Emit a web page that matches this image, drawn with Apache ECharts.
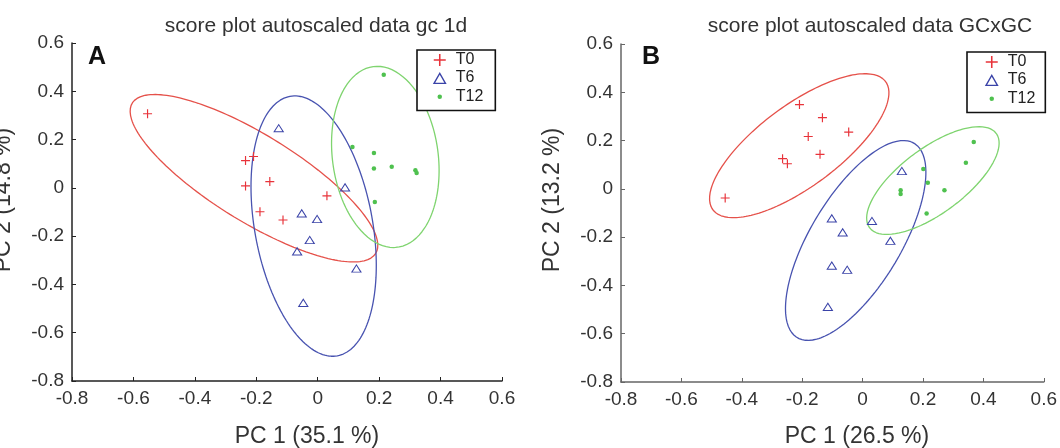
<!DOCTYPE html>
<html>
<head>
<meta charset="utf-8">
<title>score plot autoscaled data</title>
<script src="https://cdn.jsdelivr.net/npm/echarts@6/dist/echarts.min.js"></script>
<style>
body { margin: 0; background: #fff; }
#main { width: 1060px; height: 448px; }
</style>
</head>
<body>
<div id="main"></div>
<script type="text/javascript">
// axis ticks (same for both panels)
var ticks = [-0.8, -0.6, -0.4, -0.2, 0, 0.2, 0.4, 0.6];
var groups = ['T0', 'T6', 'T12'];

// panel A : gc 1d  (PC1 35.1 %, PC2 14.8 %)
var gcT0x  = [-0.554, -0.235, -0.209, -0.235, -0.156, -0.188, -0.113, 0.030];
var gcT0y  = [0.307, 0.113, 0.130, 0.008, 0.026, -0.099, -0.133, -0.033];
var gcT6x  = [-0.127, 0.089, -0.052, -0.002, -0.026, -0.067, 0.126, -0.047];
var gcT6y  = [0.248, 0.003, -0.105, -0.128, -0.215, -0.262, -0.333, -0.475];
var gcT12x = [0.215, 0.113, 0.183, 0.183, 0.241, 0.318, 0.322, 0.186];
var gcT12y = [0.469, 0.169, 0.144, 0.080, 0.087, 0.073, 0.062, -0.059];

// panel B : GCxGC  (PC1 26.5 %, PC2 13.2 %)
var gcxT0x  = [-0.455, -0.265, -0.249, -0.209, -0.180, -0.133, -0.141, -0.046];
var gcxT0y  = [-0.038, 0.125, 0.104, 0.349, 0.217, 0.295, 0.143, 0.235];
var gcxT6x  = [0.130, -0.102, -0.066, 0.031, 0.092, -0.102, -0.051, -0.115];
var gcxT6y  = [0.075, -0.121, -0.179, -0.132, -0.214, -0.317, -0.334, -0.488];
var gcxT12x = [0.368, 0.342, 0.201, 0.216, 0.271, 0.126, 0.126, 0.212];
var gcxT12y = [0.194, 0.108, 0.082, 0.025, -0.006, -0.006, -0.021, -0.102];

var pointColor = { T0: '#e8333a', T6: '#3a43a8', T12: '#4fc14f' };
var lineColor = { T0: '#e5514a', T6: '#4853b0', T12: '#7fd46f' };

var plusPath = 'path://M8.7,0 H11.3 V8.7 H20 V11.3 H11.3 V20 H8.7 V11.3 H0 V8.7 H8.7 Z';
// hollow triangle: outer one clockwise, inner one reversed
var triPath = 'path://M0,20 L11.5,0 L23,20 Z M3.9,17.8 L19.1,17.8 L11.5,4.5 Z';

var symbols = {
    T0: { symbol: plusPath, size: 9 },
    T6: { symbol: triPath, size: [11, 10] },
    T12: { symbol: 'circle', size: 4.5 }
};

function pairs(xs, ys) {
    var out = [];
    for (var i = 0; i < xs.length; i++) out.push([xs[i], ys[i]]);
    return out;
}

// 95% confidence ellipse from the group's covariance
function ellipse(xs, ys) {
    var n = xs.length, mx = 0, my = 0;
    for (var i = 0; i < n; i++) { mx += xs[i]; my += ys[i]; }
    mx /= n; my /= n;
    var sxx = 0, syy = 0, sxy = 0;
    for (var i = 0; i < n; i++) {
        sxx += (xs[i] - mx) * (xs[i] - mx);
        syy += (ys[i] - my) * (ys[i] - my);
        sxy += (xs[i] - mx) * (ys[i] - my);
    }
    sxx /= n - 1; syy /= n - 1; sxy /= n - 1;
    var tr = sxx + syy, det = sxx * syy - sxy * sxy;
    var d = Math.sqrt(Math.max(tr * tr / 4 - det, 0));
    var l1 = tr / 2 + d, l2 = Math.max(tr / 2 - d, 0);
    var ex = 1, ey = 0;
    if (Math.abs(sxy) > 1e-12) { ex = l1 - syy; ey = sxy; }
    else if (syy > sxx) { ex = 0; ey = 1; }
    var len = Math.sqrt(ex * ex + ey * ey);
    ex /= len; ey /= len;
    var k = Math.sqrt(5.991);
    var a = k * Math.sqrt(l1), b = k * Math.sqrt(l2);
    var pts = [];
    for (var j = 0; j <= 180; j++) {
        var t = 2 * Math.PI * j / 180;
        var u = a * Math.cos(t), v = b * Math.sin(t);
        pts.push([mx + u * ex - v * ey, my + u * ey + v * ex]);
    }
    return pts;
}

var panels = [
    { data: { T0: [gcT0x, gcT0y], T6: [gcT6x, gcT6y], T12: [gcT12x, gcT12y] } },
    { data: { T0: [gcxT0x, gcxT0y], T6: [gcxT6x, gcxT6y], T12: [gcxT12x, gcxT12y] } }
];

var series = [];
panels.forEach(function (p, idx) {
    groups.forEach(function (g) {
        series.push({
            name: g + ' ellipse',
            type: 'line',
            xAxisIndex: idx,
            yAxisIndex: idx,
            data: ellipse(p.data[g][0], p.data[g][1]),
            showSymbol: false,
            silent: true,
            lineStyle: { color: lineColor[g], width: 1.3 },
            z: 2
        });
    });
    groups.forEach(function (g) {
        series.push({
            name: g,
            type: 'scatter',
            xAxisIndex: idx,
            yAxisIndex: idx,
            data: pairs(p.data[g][0], p.data[g][1]),
            symbol: symbols[g].symbol,
            symbolSize: symbols[g].size,
            symbolKeepAspect: true,
            itemStyle: { color: pointColor[g], opacity: 1 },
            z: 3
        });
    });
});

function tickFmt(v) {
    var r = Math.round(v * 10) / 10;
    if (r === 0) return '0';
    return r.toFixed(1);
}

function makeAxis(idx, axisColor) {
    return {
        type: 'value',
        gridIndex: idx,
        min: ticks[0],
        max: ticks[ticks.length - 1],
        interval: 0.2,
        splitLine: { show: false },
        axisLine: { onZero: false, lineStyle: { color: axisColor, width: 1.5 } },
        axisTick: { inside: true, length: 4, lineStyle: { color: axisColor, width: 1 } },
        axisLabel: { formatter: tickFmt, color: '#333', fontSize: 19, margin: 8,
                     fontFamily: 'Liberation Sans, Arial, sans-serif' }
    };
}

function makeLegend(left, top, pad) {
    return {
        left: left,
        top: top,
        orient: 'vertical',
        selectedMode: false,
        backgroundColor: '#fff',
        borderColor: '#111',
        borderWidth: 1.6,
        borderRadius: 0,
        padding: pad,
        itemGap: 0,
        itemWidth: 22,
        itemHeight: 12,
        textStyle: { fontSize: 16, color: '#222', lineHeight: 18,
                     fontFamily: 'Liberation Sans, Arial, sans-serif' },
        data: [
            { name: 'T0' },
            { name: 'T6' },
            { name: 'T12', icon: 'circle', itemStyle: { borderColor: '#fff', borderWidth: 7.5 } }
        ]
    };
}

var font = 'Liberation Sans, Arial, sans-serif';
function label(text, x, y, size, opts) {
    var o = {
        type: 'text',
        x: x,
        y: y,
        style: { text: text, fill: '#333', font: size + 'px ' + font,
                 textAlign: 'center', textVerticalAlign: 'middle' }
    };
    if (opts && opts.rotate) o.rotation = Math.PI / 2;
    if (opts && opts.bold) { o.style.font = 'bold ' + size + 'px ' + font; o.style.fill = '#111'; o.style.textAlign = 'left'; }
    return o;
}

var myChart = echarts.init(document.getElementById('main'));
var option = {
    animation: false,
    backgroundColor: '#fff',
    grid: [
        { left: 72, top: 43, width: 430, height: 338 },
        { left: 621, top: 44, width: 429, height: 338 }
    ],
    xAxis: [makeAxis(0, '#222'), makeAxis(1, '#666')],
    yAxis: [makeAxis(0, '#222'), makeAxis(1, '#666')],
    legend: [makeLegend(417, 50, [1, 12, 4, 13]), makeLegend(967, 52, [1, 10, 4, 15])],
    graphic: [
        label('score plot autoscaled data gc 1d', 316, 26, 21),
        label('score plot autoscaled data GCxGC', 870, 26, 21),
        label('A', 88, 57, 25, { bold: true }),
        label('B', 642, 57, 25, { bold: true }),
        label('PC 1 (35.1 %)', 307, 437, 23),
        label('PC 1 (26.5 %)', 857, 437, 23),
        label('PC 2 (14.8 %)', 4, 200, 23, { rotate: true }),
        label('PC 2 (13.2 %)', 553, 200, 23, { rotate: true })
    ],
    series: series
};
myChart.setOption(option);
</script>
</body>
</html>
